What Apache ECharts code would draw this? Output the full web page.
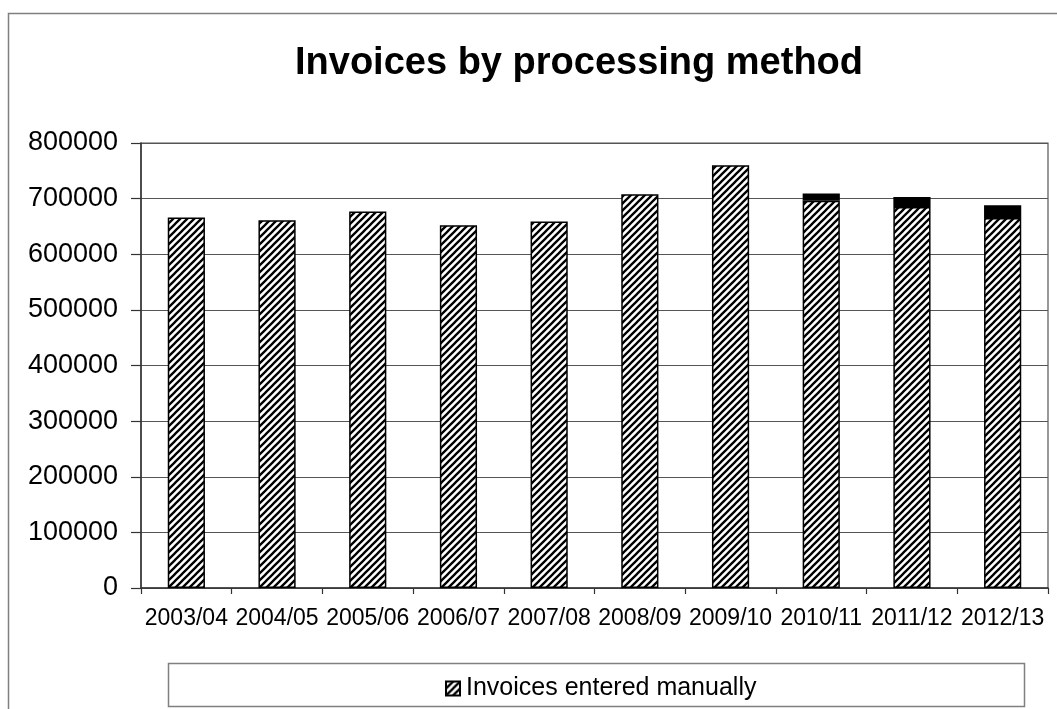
<!DOCTYPE html>
<html>
<head>
<meta charset="utf-8">
<script src="https://cdn.jsdelivr.net/npm/echarts@6/dist/echarts.min.js"></script>
<style>
html,body{margin:0;padding:0;background:#fff;}
#chart{width:1057px;height:709px;}
</style>
</head>
<body>
<div id="chart"></div>
<script>
const categories = ['2003/04','2004/05','2005/06','2006/07','2007/08','2008/09','2009/10','2010/11','2011/12','2012/13'];
const manualValues = [666000, 661000, 677000, 652000, 659000, 708000, 760000, 696000, 685000, 665000];
const electronicValues = ['-', '-', '-', '-', '-', '-', '-', 13000, 18000, 23000];
const yTicks = [0, 100000, 200000, 300000, 400000, 500000, 600000, 700000, 800000];

function hatch() {
  const s = 7;
  const c = document.createElement('canvas');
  c.width = s; c.height = s;
  const g = c.getContext('2d');
  g.fillStyle = '#fff';
  g.fillRect(0, 0, s, s);
  g.strokeStyle = '#000';
  g.lineWidth = 2.3;
  g.beginPath();
  g.moveTo(-1, s + 1); g.lineTo(s + 1, -1);
  g.moveTo(-2, 2); g.lineTo(2, -2);
  g.moveTo(s - 2, s + 2); g.lineTo(s + 2, s - 2);
  g.stroke();
  return c;
}

const chart = echarts.init(document.getElementById('chart'), null, {renderer: 'canvas'});
const FONT = '"Liberation Sans", Arial, sans-serif';
chart.setOption({
  animation: false,
  backgroundColor: '#fff',
  title: {
    text: 'Invoices by processing method',
    left: 290,
    top: 40,
    textStyle: {fontFamily: FONT, fontSize: 38, fontWeight: 'bold', color: '#000'}
  },
  graphic: [
    {type: 'rect', shape: {x: 8.5, y: 13.5, width: 1200, height: 900},
     style: {fill: 'none', stroke: '#808080', lineWidth: 1.5}, silent: true, z: -1},
    {type: 'rect', shape: {x: 168.5, y: 663.5, width: 856, height: 43},
     style: {fill: '#fff', stroke: '#808080', lineWidth: 1.5}, silent: true, z: 0}
  ],
  legend: {
    data: [{name: 'Invoices entered manually', icon: 'rect'}],
    left: 440,
    top: 671,
    itemWidth: 14,
    itemHeight: 14,
    itemGap: 10,
    textStyle: {fontFamily: FONT, fontSize: 25, color: '#000', padding: [2, 0, 0, 1]},
    z: 5
  },
  grid: {
    left: 141, right: 9, top: 143, bottom: 121,
    show: true, borderColor: '#555', borderWidth: 1.2, containLabel: false
  },
  xAxis: {
    type: 'category',
    data: categories,
    boundaryGap: true,
    axisLine: {lineStyle: {color: '#333', width: 1.5}},
    axisTick: {show: true, length: 6, lineStyle: {color: '#333', width: 1.2}},
    axisLabel: {fontFamily: FONT, fontSize: 23, color: '#000', margin: 19, interval: 0}
  },
  yAxis: {
    type: 'value',
    min: 0, max: 800000, interval: 100000,
    axisLine: {show: true, lineStyle: {color: '#333', width: 1.5}},
    axisTick: {show: true, length: 10, lineStyle: {color: '#333', width: 1.2}},
    splitLine: {lineStyle: {color: '#555', width: 1.2}},
    axisLabel: {fontFamily: FONT, fontSize: 27, color: '#000', margin: 23,
      formatter: function (v) { return yTicks.indexOf(v) >= 0 ? String(v) : ''; }}
  },
  series: [
    {
      name: 'Invoices entered manually',
      type: 'bar',
      stack: 'total',
      data: manualValues,
      barWidth: '41%',
      itemStyle: {color: {image: hatch(), repeat: 'repeat'}, borderColor: '#000', borderWidth: 1.5}
    },
    {
      name: 'Invoices processed electronically',
      type: 'bar',
      stack: 'total',
      data: electronicValues,
      barWidth: '41%',
      itemStyle: {color: '#000', borderColor: '#000', borderWidth: 1.5}
    }
  ]
});
</script>
</body>
</html>
